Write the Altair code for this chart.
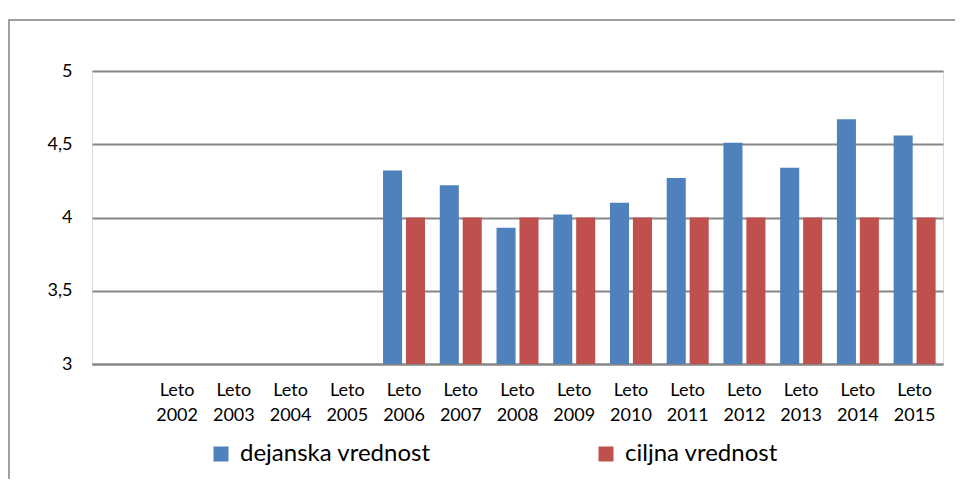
import altair as alt
import pandas as pd

categories = [" ", "Leto 2002", "Leto 2003", "Leto 2004", "Leto 2005", "Leto 2006",
              "Leto 2007", "Leto 2008", "Leto 2009", "Leto 2010", "Leto 2011",
              "Leto 2012", "Leto 2013", "Leto 2014", "Leto 2015"]
years = categories[1:]
dejanska = [None, None, None, None, 4.32, 4.22, 3.93, 4.02, 4.10, 4.27, 4.51, 4.34, 4.67, 4.56]
ciljna = [None, None, None, None, 4, 4, 4, 4, 4, 4, 4, 4, 4, 4]
series = ["dejanska vrednost", "ciljna vrednost"]
colors = ["#4F81BD", "#C0504D"]
y_ticks = [3, 3.5, 4, 4.5, 5]

rows = []
for y, d, c in zip(years, dejanska, ciljna):
    if d is not None:
        rows.append({"leto": y, "serija": series[0], "vrednost": d})
    if c is not None:
        rows.append({"leto": y, "serija": series[1], "vrednost": c})
df = pd.DataFrame(rows)

FONT = "Lato"
W, H = 851, 293

bars = alt.Chart(df).mark_bar().encode(
    x=alt.X("leto:N", scale=alt.Scale(domain=categories, paddingInner=0.26, paddingOuter=0.13),
            axis=alt.Axis(title=None, labelExpr="split(datum.label, ' ')", labelAngle=0,
                          labelFontSize=18, labelLineHeight=25, labelPadding=17,
                          labelFontWeight="normal",
                          ticks=False, domainColor="#868686", domainWidth=2,
                          labelColor="#000000", labelFont=FONT)),
    xOffset=alt.XOffset("serija:N", scale=alt.Scale(domain=series, paddingInner=0.17, paddingOuter=0)),
    y=alt.Y("vrednost:Q", scale=alt.Scale(domain=[3, 5], zero=False, nice=False),
            axis=alt.Axis(title=None, values=y_ticks, domain=False, ticks=False,
                          labelExpr="replace(format(datum.value, '~g'), '.', ',')",
                          labelFontSize=18, labelPadding=20, labelColor="#000000",
                          labelFontWeight="normal",
                          labelFont=FONT, gridColor="#868686", gridWidth=2, gridOpacity=1)),
    y2=alt.datum(3),
    color=alt.Color("serija:N", scale=alt.Scale(domain=series, range=colors),
                    legend=alt.Legend(title=None, orient="none", legendX=117, legendY=371,
                                      direction="horizontal", symbolType="square",
                                      symbolSize=225, symbolStrokeWidth=0,
                                      labelFontSize=24, labelFont=FONT, labelColor="#000000",
                                      labelFontWeight="normal",
                                      labelLimit=0, labelOffset=7, columnPadding=163)),
)

frame_left = alt.Chart(df).mark_rule(color="#A0A0A0", strokeWidth=2).encode(
    x=alt.value(-83), y=alt.value(-51), y2=alt.value(H + 120))
frame_top = alt.Chart(df).mark_rule(color="#A0A0A0", strokeWidth=2).encode(
    x=alt.value(-84), x2=alt.value(W + 20), y=alt.value(-51))

chart = alt.layer(bars, frame_left, frame_top).properties(
    width=W, height=H,
    autosize=alt.AutoSizeParams(type="none"),
    padding={"left": 84, "top": 63, "right": 12, "bottom": 115},
).configure_view(stroke=None).configure(background="white")

chart.save("out.html", embed_options={"renderer": "svg", "actions": False})
